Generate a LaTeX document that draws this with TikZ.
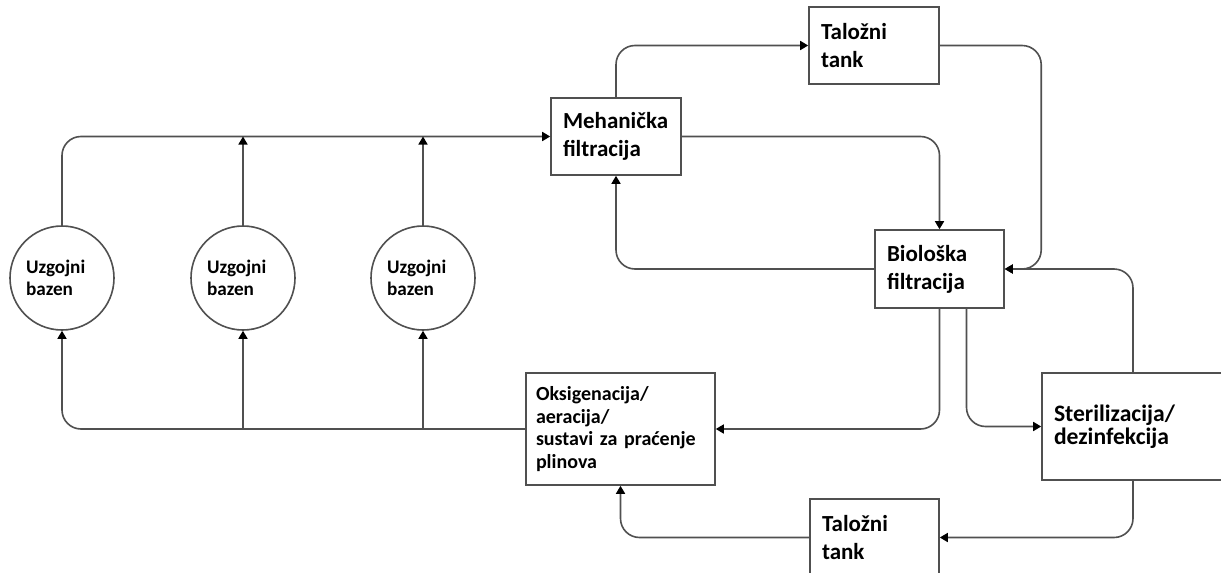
\documentclass[tikz,border=0pt]{standalone}
\usepackage{fontspec}
\setmainfont{Carlito}
\usetikzlibrary{arrows.meta}
\definecolor{linija}{RGB}{80,80,80}

\begin{document}
\begin{tikzpicture}[x=0.5pt,y=-0.5pt,
		blok/.style={draw=linija,line width=0.8pt,align=left,inner xsep=6pt,text width=53pt,minimum height=38.5pt,font=\bfseries\fontsize{11.5}{14}\selectfont},
		bazen/.style={circle,draw=linija,line width=0.8pt,minimum size=52pt,inner sep=0pt,text width=36pt,align=left,font=\bfseries\fontsize{9.6}{11}\selectfont},
		tok/.style={draw=linija,line width=0.8pt,rounded corners=9.5pt,-{Triangle[length=4pt,width=4.5pt,color=black]}}]
		\useasboundingbox[fill=white] (0,0) rectangle (1221,573);
		\node[bazen] (bz1) at (62,278) {Uzgojni\\bazen};
		\node[bazen] (bz2) at (243,278) {Uzgojni\\bazen};
		\node[bazen] (bz3) at (423,278) {Uzgojni\\bazen};
		\node[blok] (meh) at (616,136.5) {Mehanička\\filtracija};
		\node[blok] (tal1) at (874,45.5) {Taložni\\tank};
		\node[blok,text width=52.5pt,minimum height=39pt] (bio) at (939.5,269) {Biološka\\filtracija};
		\node[blok,text width=79pt,minimum height=53.5pt,font=\bfseries\fontsize{11.8}{11.5}\selectfont] (ster) at (1133,426.5) {Sterilizacija/\\dezinfekcija};
		\node[blok,inner xsep=5pt,text width=84.5pt,minimum height=56pt,font=\bfseries\fontsize{10}{11.2}\selectfont] (oks) at (620.5,429) {Oksigenacija/\\aeracija/\\sustavi za praćenje\\plinova};
		\node[blok,text width=52.5pt] (tal2) at (874.5,537.5) {Taložni\\tank};

		\draw[tok] (bz1.north) |- (meh.west);
		\draw[tok] (bz2.north) -- (bz2.north |- meh.west);
		\draw[tok] (bz3.north) -- (bz3.north |- meh.west);
		\draw[tok] (meh.north) |- (tal1.west);
		\draw[tok] (meh.east) -| (bio.north);
		\draw[tok] (tal1.east) -| (ster.west |- bio.east) -- (bio.east);
		\draw[tok] (ster.north) |- (bio.east);
		\draw[tok] (bio.west) -| (meh.south);
		\draw[tok] (bio.south) |- (oks.east);
		\draw[tok] ([xshift=13.5pt]bio.south) |- (ster.west);
		\draw[tok] (ster.south) |- (tal2.east);
		\draw[tok] (tal2.west) -| (oks.south);
		\draw[tok] (oks.west) -| (bz1.south);
		\draw[tok] (bz2.south |- oks.west) -- (bz2.south);
		\draw[tok] (bz3.south |- oks.west) -- (bz3.south);
	\end{tikzpicture}
\end{document}
